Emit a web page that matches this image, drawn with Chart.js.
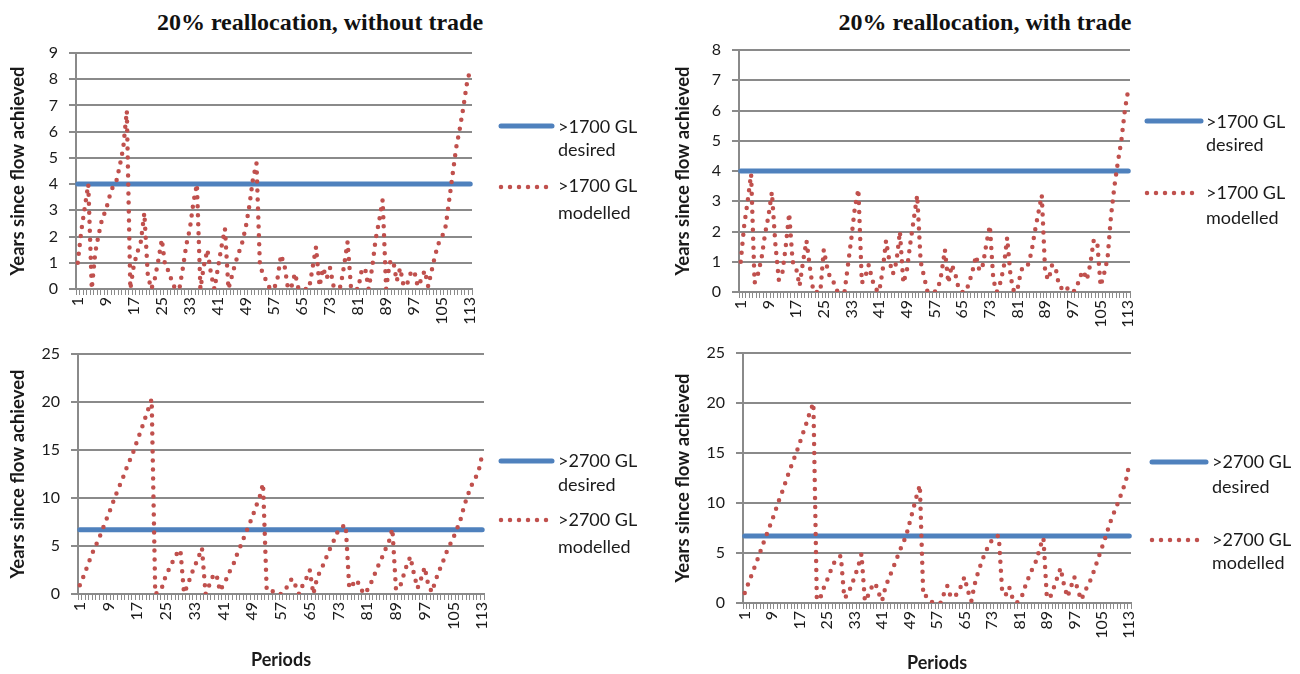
<!DOCTYPE html>
<html>
<head>
<meta charset="utf-8">
<script src="https://cdn.jsdelivr.net/npm/chart.js@4.4.1/dist/chart.umd.min.js"></script>
<style>
html,body{margin:0;padding:0;background:#fff;width:1300px;height:674px;overflow:hidden;}
canvas{position:absolute;}
.title{position:absolute;font-family:"Liberation Serif","Times New Roman",serif;font-weight:bold;font-size:24px;line-height:24px;color:#111;white-space:nowrap;transform:translateX(-50%);}
</style>
</head>
<body>
<div class="title" style="left:320px;top:10px">20% reallocation, without trade</div>
<div class="title" style="left:985px;top:10px">20% reallocation, with trade</div>
<canvas id="tl" width="665" height="300" style="left:0px;top:30px"></canvas>
<canvas id="tr" width="635" height="300" style="left:665px;top:30px"></canvas>
<canvas id="bl" width="665" height="344" style="left:0px;top:330px"></canvas>
<canvas id="br" width="635" height="344" style="left:665px;top:330px"></canvas>
<script>
// ---- categories ----
const periods = [1,2,3,4,5,6,7,8,9,10,11,12,13,14,15,16,17,18,19,20,
  21,22,23,24,25,26,27,28,29,30,31,32,33,34,35,36,37,38,39,40,
  41,42,43,44,45,46,47,48,49,50,51,52,53,54,55,56,57,58,59,60,
  61,62,63,64,65,66,67,68,69,70,71,72,73,74,75,76,77,78,79,80,
  81,82,83,84,85,86,87,88,89,90,91,92,93,94,95,96,97,98,99,100,
  101,102,103,104,105,106,107,108,109,110,111,112,113];

// ---- series: >1700 GL, without trade ----
const modelled1700NoTrade = [
  1.0, 2.2, 3.1, 4.0, 0, 1.4, 2.1, 2.7, 3.0, 3.5,
  3.9, 4.1, 4.7, 5.4, 6.8, 0, 0.9, 1.4, 1.8, 2.9,
  0.5, 0, 0.4, 1.1, 1.9, 0.8, 0.7, 0.2, 0, 0,
  0.8, 1.7, 2.3, 3.3, 4.0, 0, 0.9, 1.5, 0.6, 0,
  0.8, 1.6, 2.3, 0, 0.5, 1.0, 1.4, 1.8, 2.4, 3.2,
  4.2, 4.8, 0.8, 0.6, 0.2, 0, 0, 0.4, 1.3, 0.9,
  0, 0.1, 0.6, 0, 0, 0, 0, 0.8, 1.6, 0.1,
  0.8, 0.4, 0.8, 0.1, 0, 0.1, 0.9, 1.8, 0, 0,
  0, 0.7, 0.8, 0, 0.8, 1.9, 2.6, 3.4, 0, 1.0,
  1.1, 0.3, 0.8, 0.1, 0.2, 0.6, 0.7, 0.1, 0.35, 0.7,
  0.1, 0.7, 1.3, 1.75, 2.0, 2.4, 3.4, 4.4, 5.4, 6.1,
  6.9, 7.8, 8.4];
const desired1700NoTrade = 4;

// ---- series: >1700 GL, with trade ----
const modelled1700Trade = [
  1.0, 2.2, 3.0, 3.9, 0.3, 0.6, 1.1, 1.9, 2.5, 3.3,
  1.6, 0.4, 0.6, 1.5, 2.6, 1.0, 0.8, 0.2, 1.0, 1.7,
  0.8, 0, 0, 0, 1.4, 0.8, 0.4, 0.3, 0, 0,
  0, 0.9, 1.8, 2.8, 3.4, 0.3, 0.5, 0.9, 0.4, 0.1,
  0, 0.7, 1.7, 1.0, 0.6, 1.0, 2.0, 0.3, 0.7, 1.6,
  2.4, 3.2, 1.0, 0.5, 0, 0, 0, 0.1, 0.6, 1.4,
  0.3, 0.9, 0.6, 0.1, 0, 0, 0.3, 0.7, 1.2, 0.7,
  0.9, 1.6, 2.2, 0.4, 0, 0.3, 0.8, 1.8, 0.5, 0,
  0.1, 0.7, 0.9, 0.9, 1.3, 2.0, 2.6, 3.2, 0.6, 0.4,
  0.9, 0.8, 0.2, 0.1, 0.2, 0, 0, 0.1, 0.5, 0.7,
  0.4, 0.9, 1.7, 1.7, 0.2, 0.6, 1.1, 2.5, 3.5, 4.3,
  5.0, 6.0, 6.7];
const desired1700Trade = 4;

// ---- series: >2700 GL, without trade ----
const modelled2700NoTrade = [
  0.9, 1.8, 2.8, 3.8, 4.7, 5.5, 6.4, 7.4, 8.3, 9.3,
  10.3, 11.2, 12.1, 13.1, 14.0, 14.9, 16.0, 17.0, 18.1, 19.2,
  20.3, 0, 0.2, 0.8, 2.0, 2.7, 3.5, 4.2, 4.6, 0.1,
  0.9, 2.0, 2.9, 3.8, 4.8, 0, 0.9, 1.8, 2.1, 0.3,
  1.0, 1.7, 2.6, 3.3, 4.4, 5.2, 6.2, 7.1, 8.0, 9.1,
  10.0, 11.5, 0.6, 0.7, 0.1, 0, 0, 0.4, 0.9, 1.6,
  0.9, 0, 0.9, 1.6, 2.5, 0, 1.6, 2.5, 3.2, 4.2,
  5.0, 5.8, 6.7, 7.0, 7.2, 0.6, 1.0, 1.5, 0.8, 0,
  0.4, 1.1, 2.0, 2.9, 3.7, 4.6, 5.4, 6.8, 0.5, 0.6,
  1.8, 3.0, 3.9, 2.1, 0.6, 1.6, 2.8, 0.9, 0.2, 1.4,
  2.4, 3.3, 4.3, 5.1, 5.9, 6.8, 7.8, 9.2, 10.3, 11.3,
  12.0, 12.8, 14.5];
const desired2700NoTrade = 6.7;

// ---- series: >2700 GL, with trade ----
const modelled2700Trade = [
  1.0, 1.9, 2.8, 3.7, 4.6, 5.6, 6.5, 7.4, 8.3, 9.3,
  10.3, 11.2, 12.2, 13.2, 14.1, 15.0, 16.0, 17.0, 18.0, 19.1,
  20.0, 0.3, 0.5, 1.5, 2.3, 3.2, 4.0, 4.5, 4.7, 0.5,
  0.8, 1.7, 2.6, 3.6, 4.9, 0.2, 0.8, 1.6, 2.0, 1.0,
  0.2, 1.6, 2.5, 3.3, 4.2, 5.1, 5.9, 6.7, 8.0, 9.3,
  10.6, 11.8, 0.7, 0.7, 0.2, 0, 0, 0, 0.9, 1.7,
  0.6, 0.6, 1.0, 1.7, 2.6, 1.2, 0.2, 1.9, 3.1, 4.1,
  5.0, 5.7, 6.3, 6.7, 6.7, 1.0, 0.8, 1.6, 0.5, 0,
  0.2, 0.9, 2.0, 2.8, 3.6, 4.3, 5.6, 6.5, 0.5, 0.6,
  1.5, 2.5, 3.5, 1.8, 0.6, 1.6, 2.6, 1.3, 0.3, 1.1,
  1.8, 2.5, 3.5, 4.5, 5.5, 6.5, 7.6, 8.6, 9.4, 10.3,
  11.2, 12.2, 13.9];
const desired2700Trade = 6.7;

// ---- axis tick values ----
const yTicksTop = {max: 9, step: 1};
const yTicksTopTrade = {max: 8, step: 1};
const yTicksBottom = {max: 25, step: 5};

const TEXT = '#1a1a1a', GRID = '#8a8a8a', BLUE = '#4F81BD', RED = '#C0504D';

const sideLegendPlugin = {
  id: 'sideLegend',
  afterDraw(chart, args, opts) {
    const ctx = chart.ctx;
    ctx.save();
    opts.items.forEach(it => {
      const ds = chart.data.datasets[it.ds];
      ctx.beginPath();
      ctx.strokeStyle = ds.borderColor;
      ctx.lineWidth = ds.borderWidth;
      ctx.lineCap = 'round';
      ctx.setLineDash(ds.borderDash || []);
      ctx.moveTo(opts.x0, it.y);
      ctx.lineTo(it.x1, it.y);
      ctx.stroke();
      ctx.setLineDash([]);
      ctx.fillStyle = TEXT;
      ctx.font = '18px Lato';
      ctx.textBaseline = 'middle';
      ctx.textAlign = 'left';
      it.text.forEach((t, k) => ctx.fillText(t, opts.tx, it.ty[k]));
    });
    ctx.restore();
  }
};

function makeChart(p) {
  const padL = 7;
  const chartL = p.area.l - p.left, chartT = p.area.t - p.top;
  const chartR = p.area.r - p.left, chartB = p.area.b - p.top;
  const labels = periods.map(String);
  return new Chart(document.getElementById(p.id), {
    type: 'line',
    data: {
      labels: labels,
      datasets: [
        {label: p.gl + ' modelled', data: p.modelled, borderColor: RED, borderWidth: 4.5,
         borderDash: [0, 9], borderCapStyle: 'round', borderJoinStyle: 'round',
         pointRadius: 0, fill: false, tension: 0, order: 0},
        {label: p.gl + ' desired',
         data: [{x: labels[0], y: p.desired}, {x: labels[labels.length - 1], y: p.desired}],
         borderColor: BLUE, borderWidth: 5, borderCapStyle: 'round',
         pointRadius: 0, fill: false, tension: 0, order: 1}
      ]
    },
    options: {
      responsive: false, animation: false, devicePixelRatio: 1,
      layout: {padding: {left: padL, top: chartT, right: p.w - chartR, bottom: 0}},
      plugins: {
        legend: {display: false}, tooltip: {enabled: false},
        sideLegend: {
          x0: p.lg.x0, tx: p.lg.tx,
          items: [
            {ds: 1, y: p.lg.by, x1: p.lg.x1, text: [p.gl, 'desired'], ty: p.lg.bty},
            {ds: 0, y: p.lg.ry, x1: p.lg.x1 - 3, text: [p.gl, 'modelled'], ty: p.lg.rty}
          ]
        }
      },
      scales: {
        x: {
          type: 'category', offset: true,
          grid: {offset: true, drawOnChartArea: false, drawTicks: true, tickLength: 6, color: GRID, lineWidth: 1},
          border: {color: GRID, width: 2},
          ticks: {autoSkip: false, maxRotation: 90, minRotation: 90, padding: 2, color: TEXT,
                  font: {family: 'Lato', size: 16},
                  callback: (v, i) => (i % 8 === 0 ? labels[i] : '')},
          title: {display: p.xTitle, text: 'Periods', color: TEXT,
                  font: {family: 'Lato', size: 18, weight: 'bold'}, padding: {top: 0, bottom: p.xTitlePad}},
          afterFit: s => { s.height = p.h - chartB; s.paddingLeft = 0; s.paddingRight = 0; }
        },
        y: {
          min: 0, max: p.yt.max,
          ticks: {stepSize: p.yt.step, padding: 11, color: TEXT, font: {family: 'Lato', size: 16}},
          grid: {color: GRID, lineWidth: 2, tickLength: 7},
          border: {color: GRID, width: 2},
          title: {display: true, text: 'Years since flow achieved', color: TEXT,
                  font: {family: 'Lato', size: 18.5, weight: 'bold'}, padding: 0},
          afterFit: s => { s.width = chartL - padL; s.paddingTop = 0; s.paddingBottom = 0; }
        }
      }
    },
    plugins: [sideLegendPlugin]
  });
}

makeChart({id: 'tl', left: 0, top: 30, w: 665, h: 300, area: {l: 76, t: 53, r: 472, b: 289},
  modelled: modelled1700NoTrade, desired: desired1700NoTrade, gl: '>1700 GL', yt: yTicksTop,
  xTitle: false, xTitlePad: 0,
  lg: {x0: 501, x1: 552, tx: 558, by: 96, bty: [97, 120], ry: 157, rty: [156, 183]}});
makeChart({id: 'tr', left: 665, top: 30, w: 635, h: 300, area: {l: 739, t: 50, r: 1130, b: 292},
  modelled: modelled1700Trade, desired: desired1700Trade, gl: '>1700 GL', yt: yTicksTopTrade,
  xTitle: false, xTitlePad: 0,
  lg: {x0: 482, x1: 536, tx: 541, by: 91, bty: [92, 115], ry: 163, rty: [163, 188]}});
makeChart({id: 'bl', left: 0, top: 330, w: 665, h: 344, area: {l: 78, t: 354, r: 484, b: 594},
  modelled: modelled2700NoTrade, desired: desired2700NoTrade, gl: '>2700 GL', yt: yTicksBottom,
  xTitle: true, xTitlePad: 3,
  lg: {x0: 501, x1: 552, tx: 558, by: 131, bty: [131, 155], ry: 190, rty: [190, 217]}});
makeChart({id: 'br', left: 665, top: 330, w: 635, h: 344, area: {l: 743, t: 353, r: 1131, b: 603},
  modelled: modelled2700Trade, desired: desired2700Trade, gl: '>2700 GL', yt: yTicksBottom,
  xTitle: true, xTitlePad: 0,
  lg: {x0: 487, x1: 541, tx: 547, by: 132, bty: [132, 157], ry: 210, rty: [210, 233]}});
</script>
</body>
</html>
